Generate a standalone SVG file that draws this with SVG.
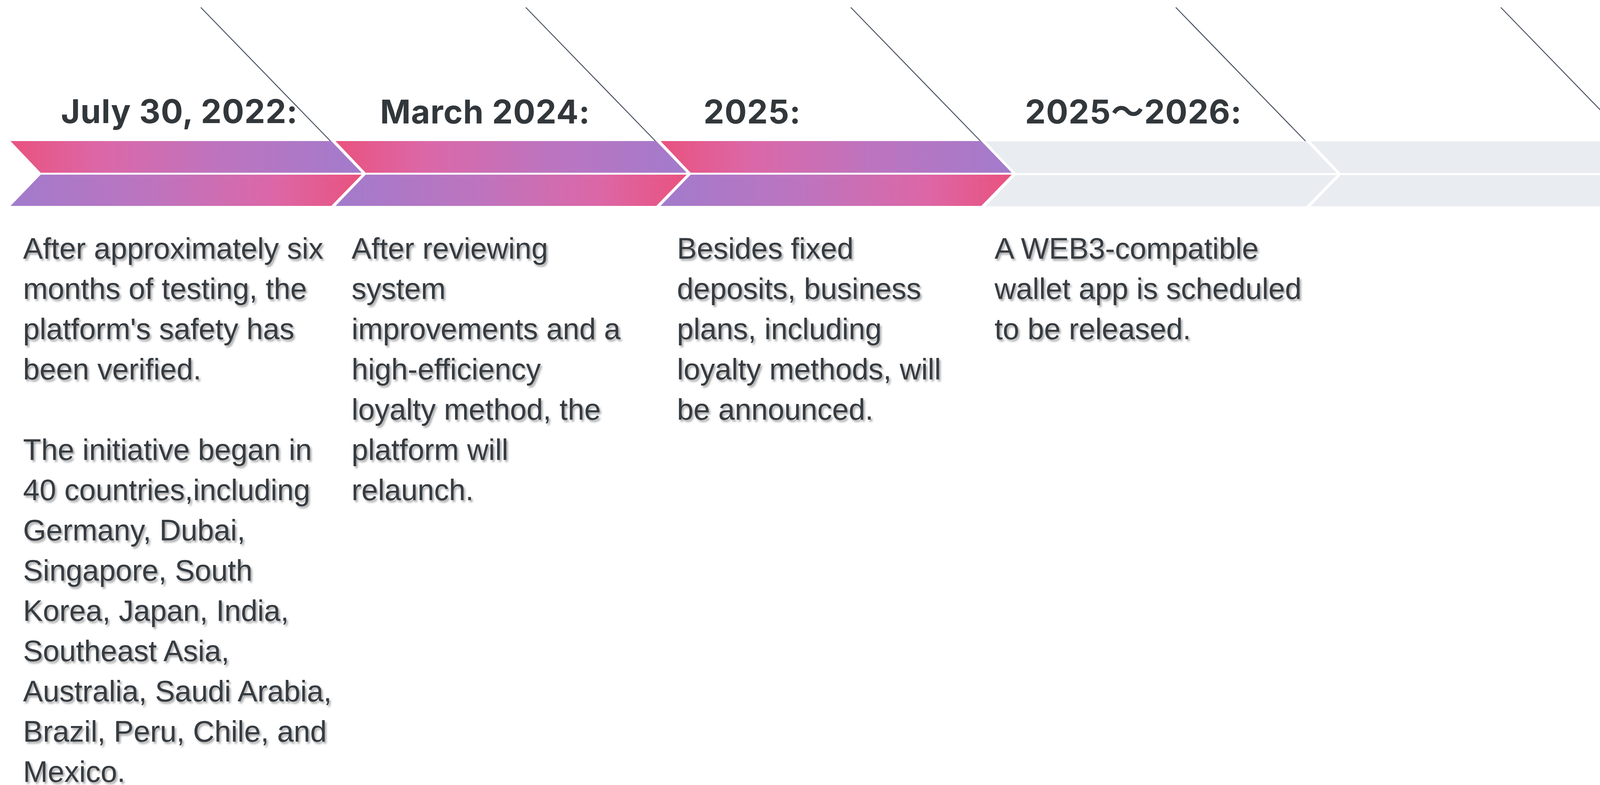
<svg xmlns="http://www.w3.org/2000/svg" width="4250" height="2009" viewBox="0 0 4250 2009">
<defs>
<linearGradient id="gTop" x1="0" y1="0" x2="1" y2="0">
<stop offset="0" stop-color="#e9527e"/>
<stop offset="0.25" stop-color="#dc67a7"/>
<stop offset="0.6" stop-color="#bd74bf"/>
<stop offset="1" stop-color="#a27bcc"/>
</linearGradient>
<linearGradient id="gBot" x1="0" y1="0" x2="1" y2="0">
<stop offset="0" stop-color="#a27bcc"/>
<stop offset="0.4" stop-color="#bd74bf"/>
<stop offset="0.75" stop-color="#dc67a7"/>
<stop offset="1" stop-color="#e9527e"/>
</linearGradient>
<filter id="sh" x="-5%" y="-20%" width="115%" height="150%">
<feDropShadow dx="4" dy="5" stdDeviation="2.5" flood-color="#000" flood-opacity="0.35"/>
</filter>
</defs>
<style>
.top{fill:url(#gTop)}
.bot{fill:url(#gBot)}
.gray{fill:#e9ecf1}
.head{font-family:Inter,"Liberation Sans","Noto Sans CJK JP",sans-serif;font-weight:700;font-size:84px;fill:#32373b;letter-spacing:1px}
.body{font-family:"Liberation Sans",Arial,sans-serif;font-size:76px;fill:#343a40;filter:url(#sh)}
.diag{stroke:#4a5262;stroke-width:2.5;fill:none}
</style>
<rect width="4250" height="2009" fill="#ffffff"/>

<g id="connectors">
<line class="diag" x1="514" y1="19" x2="846" y2="361"/>
<line class="diag" x1="1346" y1="19" x2="1678" y2="361"/>
<line class="diag" x1="2178" y1="19" x2="2510" y2="361"/>
<line class="diag" x1="3010" y1="19" x2="3342" y2="361"/>
<line class="diag" x1="3842" y1="19" x2="4174" y2="361"/>
</g>

<g id="node-2022">
<polygon class="top" points="27,361 848,361 926,442 104,442"/>
<polygon class="bot" points="104,447 926,447 848,527 27,527"/>
<text class="head" x="156" y="315">July 30, 2022:</text>
<text class="body">
<tspan x="59" y="662">After approximately six</tspan>
<tspan x="59" y="765">months of testing, the</tspan>
<tspan x="59" y="868">platform's safety has</tspan>
<tspan x="59" y="971">been verified.</tspan>
<tspan x="59" y="1177">The initiative began in</tspan>
<tspan x="59" y="1280">40 countries,including</tspan>
<tspan x="59" y="1383">Germany, Dubai,</tspan>
<tspan x="59" y="1486">Singapore, South</tspan>
<tspan x="59" y="1589">Korea, Japan, India,</tspan>
<tspan x="59" y="1692">Southeast Asia,</tspan>
<tspan x="59" y="1795">Australia, Saudi Arabia,</tspan>
<tspan x="59" y="1898">Brazil, Peru, Chile, and</tspan>
<tspan x="59" y="2001">Mexico.</tspan>
</text>
</g>

<g id="node-2024">
<polygon class="top" points="859,361 1680,361 1758,442 936,442"/>
<polygon class="bot" points="936,447 1758,447 1680,527 859,527"/>
<text class="head" x="973" y="316">March 2024:</text>
<text class="body">
<tspan x="900" y="662">After reviewing</tspan>
<tspan x="900" y="765">system</tspan>
<tspan x="900" y="868">improvements and a</tspan>
<tspan x="900" y="971">high-efficiency</tspan>
<tspan x="900" y="1074">loyalty method, the</tspan>
<tspan x="900" y="1177">platform will</tspan>
<tspan x="900" y="1280">relaunch.</tspan>
</text>
</g>

<g id="node-2025">
<polygon class="top" points="1691,361 2512,361 2590,442 1768,442"/>
<polygon class="bot" points="1768,447 2590,447 2512,527 1691,527"/>
<text class="head" x="1801" y="316">2025:</text>
<text class="body">
<tspan x="1733" y="662">Besides fixed</tspan>
<tspan x="1733" y="765">deposits, business</tspan>
<tspan x="1733" y="868">plans, including</tspan>
<tspan x="1733" y="971">loyalty methods, will</tspan>
<tspan x="1733" y="1074">be announced.</tspan>
</text>
</g>

<g id="node-2025-2026">
<polygon class="gray" points="2523,362 3344,362 3422,443 2600,443"/>
<polygon class="gray" points="2600,448 3422,448 3344,528 2523,528"/>
<text class="head" x="2624" y="316">2025～2026:</text>
<text class="body">
<tspan x="2546" y="662">A WEB3-compatible</tspan>
<tspan x="2546" y="765">wallet app is scheduled</tspan>
<tspan x="2546" y="868">to be released.</tspan>
</text>
</g>

<g id="node-empty">
<polygon class="gray" points="3355,362 4176,362 4254,443 3432,443"/>
<polygon class="gray" points="3432,448 4254,448 4176,528 3355,528"/>
</g>
</svg>
